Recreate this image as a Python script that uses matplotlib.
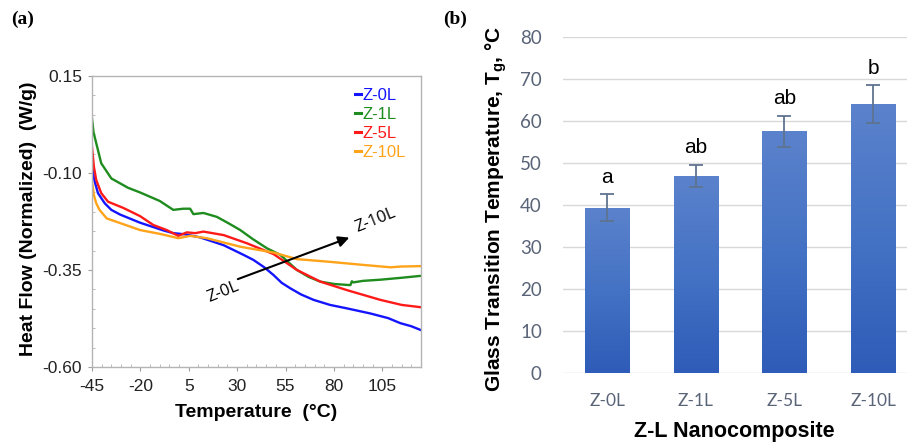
import numpy as np
import matplotlib.pyplot as plt
from matplotlib.ticker import MultipleLocator
from matplotlib.colors import LinearSegmentedColormap

plt.rcParams['font.family'] = ['Liberation Sans', 'DejaVu Sans']
plt.rcParams['axes.unicode_minus'] = False

# ---- panel (a): DSC curves
temp_0L = [-45, -44.4, -43.6, -41.9, -38.4, -35, -30.5, -20.2, -8.1, -3, 3, 10.9, 23,
           33.3, 38.4, 44, 48.8, 53, 57.4, 63, 69.5, 78, 86.8, 98.8, 108, 114.3, 120, 125]
hf_0L = [-0.075, -0.100, -0.122, -0.152, -0.178, -0.195, -0.207, -0.228, -0.248, -0.255,
         -0.258, -0.266, -0.286, -0.311, -0.324, -0.343, -0.363, -0.383, -0.397, -0.413,
         -0.427, -0.440, -0.449, -0.462, -0.474, -0.487, -0.495, -0.505]

temp_1L = [-45, -44.2, -42.8, -40.2, -35, -26.4, -20.2, -10, -3, 2.2, 5.7, 7.4, 12.6,
           19.5, 25, 31.6, 38, 45.4, 52.3, 60.9, 67, 73, 80, 88.5, 89.3, 90, 95, 104,
           115, 125]
hf_1L = [0.041, 0.005, -0.023, -0.075, -0.114, -0.138, -0.150, -0.172, -0.195, -0.192,
         -0.192, -0.206, -0.203, -0.213, -0.228, -0.247, -0.270, -0.294, -0.311, -0.350,
         -0.368, -0.380, -0.386, -0.389, -0.379, -0.382, -0.378, -0.375, -0.370, -0.365]

temp_5L = [-45, -44, -42.8, -40.2, -36.7, -28.8, -20.2, -13.3, -6.4, -0.4, 4, 8.3, 12.6,
           23, 35, 48.8, 60.9, 73, 86.8, 104, 115, 125]
hf_5L = [-0.032, -0.084, -0.118, -0.152, -0.174, -0.190, -0.211, -0.234, -0.247, -0.262,
         -0.253, -0.255, -0.251, -0.260, -0.281, -0.309, -0.350, -0.380, -0.402, -0.427,
         -0.440, -0.446]

temp_10L = [-45, -44, -42.8, -41.1, -37.4, -25.3, -20.2, -9.8, -0.4, 5.7, 14.3, 31.6,
            48.8, 60.9, 78, 95.4, 109.2, 115, 125]
hf_10L = [-0.122, -0.157, -0.178, -0.195, -0.217, -0.238, -0.247, -0.257, -0.268, -0.262,
          -0.268, -0.290, -0.305, -0.322, -0.329, -0.337, -0.343, -0.341, -0.340]

xticks_a = [-45, -20, 5, 30, 55, 80, 105]
yticks_a = [0.15, -0.10, -0.35, -0.60]

# ---- panel (b): Tg bars
samples = ['Z-0L', 'Z-1L', 'Z-5L', 'Z-10L']
tg = [39.3, 46.9, 57.5, 63.9]
tg_err = [3.2, 2.6, 3.7, 4.5]
groups = ['a', 'ab', 'ab', 'b']

fig = plt.figure(figsize=(9.07, 4.42), dpi=100)

# ---------------- (a)
ax = fig.add_axes([0.1014, 0.1697, 0.3628, 0.6583])
ax.plot(temp_0L, hf_0L, color='#1414ff', lw=1.7, label='Z-0L')
ax.plot(temp_1L, hf_1L, color='#1e8c1e', lw=1.7, label='Z-1L')
ax.plot(temp_5L, hf_5L, color='#ff1a1a', lw=1.7, label='Z-5L')
ax.plot(temp_10L, hf_10L, color='#ffa31a', lw=1.7, label='Z-10L')
ax.set_xlim(-45, 125)
ax.set_ylim(-0.60, 0.15)
ax.set_xticks(xticks_a)
ax.set_yticks(yticks_a)
ax.set_yticklabels(['%.2f' % v for v in yticks_a])
ax.xaxis.set_minor_locator(MultipleLocator(5))
ax.yaxis.set_minor_locator(MultipleLocator(0.05))
ax.tick_params(which='major', direction='out', length=3, color='#a0a0a0',
               labelsize=12.5, labelcolor='#222222', pad=4)
ax.tick_params(axis='x', pad=6)
ax.tick_params(which='minor', direction='in', length=2.5, color='#b0b0b0')
for s in ax.spines.values():
    s.set_color('#b4b4b4')
    s.set_linewidth(1.0)
ax.set_xlabel('Temperature  (\u00b0C)', fontsize=14, fontweight='bold', labelpad=7)
ax.set_ylabel('Heat Flow (Normalized)  (W/g)', fontsize=14, fontweight='bold')
ax.yaxis.set_label_coords(-0.167, 0.51)
leg = ax.legend(loc='upper right', frameon=False, handlelength=0.35, handletextpad=0.1,
                labelcolor='linecolor', fontsize=12, borderaxespad=0.3, labelspacing=0.25,
                bbox_to_anchor=(0.99, 1.0))
for h in leg.legend_handles:
    h.set_linewidth(2.2)

ax.annotate('', xy=(89.3, -0.264), xytext=(29, -0.376),
            arrowprops=dict(arrowstyle='-|>', color='black', lw=1.5, mutation_scale=16))
ax.text(29, -0.372, 'Z-0L', rotation=22, ha='right', va='top', fontsize=12,
        fontfamily=['Open Sans', 'DejaVu Sans'], rotation_mode='anchor')
ax.text(93, -0.262, 'Z-10L', rotation=22, ha='left', va='bottom', fontsize=12,
        fontfamily=['Open Sans', 'DejaVu Sans'], rotation_mode='anchor')

fig.text(0.012, 0.945, '(a)', fontsize=14, fontweight='bold',
         fontfamily=['Liberation Serif', 'DejaVu Serif'])
fig.text(0.489, 0.945, '(b)', fontsize=14, fontweight='bold',
         fontfamily=['Liberation Serif', 'DejaVu Serif'])

# ---------------- (b)
bx = fig.add_axes([0.6204, 0.1554, 0.3794, 0.7616])
x = np.arange(len(samples))
bars = bx.bar(x, tg, width=0.5, color='none', zorder=2)
grad = LinearSegmentedColormap.from_list('g', ['#2e5cb8', '#4472c4', '#5b82cc'])
for b in bars:
    x0, y0 = b.get_x(), b.get_y()
    w, h = b.get_width(), b.get_height()
    img = bx.imshow(np.linspace(0, 1, 100).reshape(-1, 1), cmap=grad, aspect='auto',
                    origin='lower', extent=[x0, x0 + w, y0, y0 + h], zorder=2)
    img.set_clip_path(b)
bx.errorbar(x, tg, yerr=tg_err, fmt='none', ecolor='#5f7390', elinewidth=1.3,
            capsize=5, capthick=1.3, zorder=3)
for xi, v, e, g in zip(x, tg, tg_err, groups):
    bx.text(xi, v + e + 1.8, g, ha='center', va='bottom', fontsize=15)
bx.set_xlim(-0.5, 3.38)
bx.set_ylim(0, 80)
bx.set_yticks(np.arange(0, 81, 10))
bx.set_xticks(x)
bx.set_xticklabels(samples)
bx.grid(axis='y', color='#d9d9d9', lw=1.0, zorder=0)
bx.set_axisbelow(True)
for s in bx.spines.values():
    s.set_visible(False)
bx.tick_params(length=0, labelsize=13.5, labelcolor='#5a6478')
bx.tick_params(axis='y', pad=15)
bx.tick_params(axis='x', pad=14, labelsize=12.5)
for t in bx.get_xticklabels() + bx.get_yticklabels():
    t.set_fontfamily(['Lato', 'DejaVu Sans'])
bx.set_xlabel('Z-L Nanocomposite', fontsize=15.5, fontweight='bold', labelpad=9)
bx.set_ylabel('Glass Transition Temperature, T$_\\mathregular{g}$, \u00b0C',
              fontsize=15, fontweight='bold')
bx.yaxis.set_label_coords(-0.155, 0.49)

fig.savefig('out.png', dpi=100)
